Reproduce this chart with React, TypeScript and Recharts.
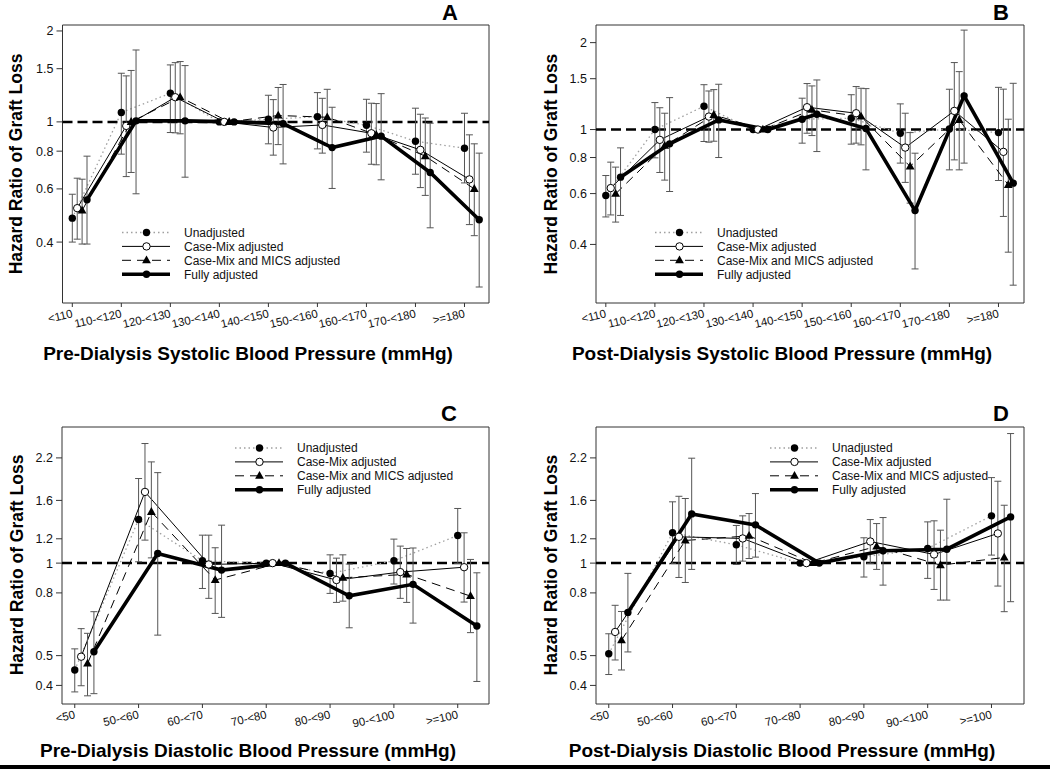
import React from 'react';
import { LineChart, Line, XAxis, YAxis, ErrorBar, ReferenceLine, ReferenceArea } from 'recharts';

const FONT = '"Liberation Sans", Arial, Helvetica, sans-serif';

// ---------- categories / ticks ----------
const sysCats = ['<110', '110-<120', '120-<130', '130-<140', '140-<150', '150-<160', '160-<170', '170-<180', '>=180'];
const diaCats = ['<50', '50-<60', '60-<70', '70-<80', '80-<90', '90-<100', '>=100'];
const yTicksSys = [0.4, 0.6, 0.8, 1, 1.5, 2];
const yTicksDia = [0.4, 0.5, 0.8, 1, 1.2, 1.6, 2.2];
const seriesNames = ['Unadjusted', 'Case-Mix adjusted', 'Case-Mix and MICS adjusted', 'Fully adjusted'];
const seriesOffsets = [0, 0.1, 0.2, 0.3];

// ---------- Panel A: pre-dialysis systolic ----------
const aUnadj = [0.48, 1.074, 1.244, 1, 1.02, 1.04, 0.975, 0.863, 0.818];
const aUnadjLo = [0.4, 0.782, 0.922, null, 0.846, 0.814, 0.794, 0.671, 0.628];
const aUnadjHi = [0.576, 1.449, 1.544, null, 1.225, 1.25, 1.188, 1.11, 1.068];
const aCase = [0.518, 0.97, 1.207, 1, 0.958, 0.977, 0.917, 0.808, 0.645];
const aCaseLo = [0.409, 0.659, 0.92, null, 0.776, 0.788, 0.724, 0.606, 0.457];
const aCaseHi = [0.651, 1.42, 1.571, null, 1.185, 1.197, 1.153, 1.06, 0.906];
const aMics = [0.509, 1.0, 1.207, 1, 1.05, 1.036, 0.906, 0.77, 0.6];
const aMicsLo = [0.394, 0.68, 0.913, null, 0.841, 0.835, 0.721, 0.571, 0.42];
const aMicsHi = [0.646, 1.48, 1.584, null, 1.3, 1.282, 1.15, 1.03, 0.846];
const aFull = [0.552, 1.008, 1.008, 1, 0.987, 0.822, 0.897, 0.68, 0.474];
const aFullLo = [0.394, 0.578, 0.656, null, 0.726, 0.602, 0.643, 0.446, 0.284];
const aFullHi = [0.77, 1.73, 1.536, null, 1.33, 1.118, 1.24, 0.99, 0.788];

// ---------- Panel B: post-dialysis systolic ----------
const bUnadj = [0.591, 1.0, 1.204, 1, 1.086, 1.094, 0.971, 1.005, 0.976];
const bUnadjLo = [0.498, 0.798, 0.909, null, 0.897, 0.89, 0.765, 0.725, 0.666];
const bUnadjHi = [0.693, 1.24, 1.43, null, 1.284, 1.32, 1.227, 1.379, 1.4];
const bCase = [0.627, 0.921, 1.109, 1, 1.195, 1.139, 0.866, 1.16, 0.837];
const bCaseLo = [0.506, 0.71, 0.904, null, 0.971, 0.897, 0.656, 0.785, 0.5];
const bCaseHi = [0.771, 1.19, 1.36, null, 1.443, 1.409, 1.139, 1.706, 1.38];
const bMics = [0.599, 0.878, 1.124, 1, 1.17, 1.109, 0.745, 1.08, 0.643];
const bMicsLo = [0.478, 0.668, 0.911, null, 0.953, 0.885, 0.556, 0.725, 0.376];
const bMicsHi = [0.741, 1.139, 1.375, null, 1.416, 1.39, 0.976, 1.587, 1.086];
const bFull = [0.684, 0.892, 1.08, 1, 1.13, 1.008, 0.524, 1.308, 0.652];
const bFullLo = [0.504, 0.61, 0.8, null, 0.839, 0.725, 0.329, 0.765, 0.289];
const bFullHi = [0.864, 1.29, 1.435, null, 1.485, 1.386, 0.828, 2.21, 1.446];

// ---------- Panel C: pre-dialysis diastolic ----------
const cUnadj = [0.449, 1.387, 1.018, 1, 0.926, 1.018, 1.23];
const cUnadjLo = [0.381, 1.01, 0.827, null, 0.797, 0.855, 0.998];
const cUnadjHi = [0.526, 1.885, 1.233, null, 1.064, 1.197, 1.506];
const cCase = [0.496, 1.705, 0.99, 1, 0.881, 0.935, 0.97];
const cCaseLo = [0.399, 1.188, 0.768, null, 0.745, 0.768, 0.747];
const cCaseHi = [0.612, 2.45, 1.233, null, 1.038, 1.136, 1.255];
const cMics = [0.471, 1.468, 0.881, 1, 0.896, 0.919, 0.781];
const cMicsLo = [0.37, 1.04, 0.686, null, 0.752, 0.745, 0.594];
const cMicsHi = [0.591, 2.135, 1.122, null, 1.064, 1.116, 1.028];
const cFull = [0.515, 1.075, 0.949, 1, 0.783, 0.853, 0.624];
const cFullLo = [0.376, 0.583, 0.666, null, 0.616, 0.638, 0.412];
const cFullHi = [0.695, 1.97, 1.329, null, 0.993, 1.12, 0.93];

// ---------- Panel D: post-dialysis diastolic ----------
const dUnadj = [0.507, 1.255, 1.147, 1, 1.048, 1.116, 1.425];
const dUnadjLo = [0.434, 0.998, 0.99, null, 0.901, 0.892, 1.062];
const dUnadjHi = [0.589, 1.583, 1.326, null, 1.209, 1.362, 1.898];
const dCase = [0.597, 1.218, 1.203, 1, 1.176, 1.067, 1.249];
const dCaseLo = [0.484, 0.898, 1.015, null, 0.998, 0.821, 0.842];
const dCaseHi = [0.729, 1.65, 1.425, null, 1.386, 1.373, 1.847];
const dMics = [0.561, 1.185, 1.227, 1, 1.133, 0.985, 1.043];
const dMicsLo = [0.449, 0.865, 1.035, null, 0.954, 0.758, 0.695];
const dMicsHi = [0.696, 1.623, 1.45, null, 1.345, 1.28, 1.543];
const dFull = [0.691, 1.446, 1.332, 1, 1.097, 1.11, 1.414];
const dFullLo = [0.514, 0.954, 1.046, null, 0.848, 0.758, 0.749];
const dFullHi = [0.926, 2.195, 1.684, null, 1.407, 1.614, 2.64];

// ---------- styles ----------
type Kind = 'filled' | 'open' | 'tri';
const seriesStyles: { stroke: string; width: number; dash?: string; marker: Kind }[] = [
  { stroke: '#a0a0a0', width: 1.3, dash: '1.5 3', marker: 'filled' },
  { stroke: '#000', width: 1, marker: 'open' },
  { stroke: '#000', width: 1, dash: '9 6', marker: 'tri' },
  { stroke: '#000', width: 3.6, marker: 'filled' },
];

function makeRows(cats: string[], v: number[], lo: (number | null)[], hi: (number | null)[], off: number) {
  return cats.map((c, i) => ({
    x: i + off,
    cat: c,
    v: v[i],
    err: lo[i] == null || hi[i] == null ? null : [v[i] - (lo[i] as number), (hi[i] as number) - v[i]],
  }));
}

function Marker({ kind, cx, cy }: { kind: Kind; cx: number; cy: number }) {
  if (kind === 'tri') {
    return <path d={`M${cx},${cy - 4.8}L${cx + 4.4},${cy + 3}L${cx - 4.4},${cy + 3}Z`} fill="#000" />;
  }
  if (kind === 'open') {
    return <circle cx={cx} cy={cy} r={3.7} fill="#fff" stroke="#000" strokeWidth={1} />;
  }
  return <circle cx={cx} cy={cy} r={3.7} fill="#000" />;
}

const renderDot = (kind: Kind) => (p: any) => {
  const { cx, cy, index } = p;
  if (cx == null || cy == null) return <g key={`d${index}`} />;
  return (
    <g key={`d${index}`}>
      <Marker kind={kind} cx={cx} cy={cy} />
    </g>
  );
};

type PanelProps = {
  left: number;
  top: number;
  width: number;
  height: number;
  box: { top: number; right: number; bottom: number; left: number };
  cats: string[];
  xDomain: [number, number];
  yDomain: [number, number];
  yTicks: number[];
  values: number[][];
  los: (number | null)[][];
  his: (number | null)[][];
};

const Y_AXIS_W = 40;
const X_AXIS_H = 30;

function Panel(props: PanelProps) {
  const { left, top, width, height, box, cats, xDomain, yDomain, yTicks, values, los, his } = props;
  const margin = { top: box.top, right: box.right, left: box.left - Y_AXIS_W, bottom: box.bottom - X_AXIS_H };
  const plotBottom = height - box.bottom;
  const rows = values.map((v, j) => makeRows(cats, v, los[j], his[j], seriesOffsets[j]));
  const XTick = (tp: any) => {
    const { x, payload } = tp;
    const y = plotBottom + 14;
    return (
      <text x={x + 1} y={y} transform={`rotate(-13, ${x + 1}, ${y})`} textAnchor="end" fontSize={11.5} fill="#111" fontFamily={FONT}>
        {cats[payload.value]}
      </text>
    );
  };
  return (
    <div style={{ position: 'absolute', left, top, width, height }}>
      <LineChart width={width} height={height} margin={margin}>
        <XAxis
          type="number"
          dataKey="x"
          domain={xDomain}
          ticks={cats.map((_, i) => i)}
          interval={0}
          allowDataOverflow
          axisLine={false}
          tickLine={{ stroke: '#333' }}
          tickSize={4}
          height={X_AXIS_H}
          tick={XTick}
        />
        <YAxis
          type="number"
          scale="log"
          domain={yDomain}
          ticks={yTicks}
          interval={0}
          allowDataOverflow
          axisLine={false}
          tickLine={{ stroke: '#333' }}
          tickSize={6}
          tickMargin={3}
          width={Y_AXIS_W}
          tick={{ fontSize: 12.5, fill: '#111', fontFamily: FONT }}
        />
        <ReferenceArea
          x1={xDomain[0]}
          x2={xDomain[1]}
          y1={yDomain[0]}
          y2={yDomain[1]}
          fill="none"
          fillOpacity={0}
          stroke="#333"
          strokeWidth={1}
          ifOverflow="visible"
        />
        <ReferenceLine y={1} stroke="#000" strokeWidth={2.5} strokeDasharray="10 5" />
        {rows.map((r, j) => {
          const st = seriesStyles[j];
          return (
            <Line
              key={j}
              data={r}
              dataKey="v"
              type="linear"
              stroke={st.stroke}
              strokeWidth={st.width}
              strokeDasharray={st.dash}
              dot={renderDot(st.marker)}
              activeDot={false}
              isAnimationActive={false}
            >
              <ErrorBar dataKey="err" direction="y" width={3.5} stroke="#555" strokeWidth={1} />
            </Line>
          );
        })}
      </LineChart>
    </div>
  );
}

function LegendBlock({ x, y }: { x: number; y: number }) {
  const gap = 13.9;
  return (
    <g>
      {seriesNames.map((name, j) => {
        const st = seriesStyles[j];
        const cy = y + j * gap;
        return (
          <g key={name}>
            <line x1={x} x2={x + 48} y1={cy} y2={cy} stroke={st.stroke} strokeWidth={st.width} strokeDasharray={st.dash} />
            <Marker kind={st.marker} cx={x + 24.5} cy={cy} />
            <text x={x + 62} y={cy + 4.3} fontSize={12} fill="#111" fontFamily={FONT}>
              {name}
            </text>
          </g>
        );
      })}
    </g>
  );
}

export default function App() {
  const topH = 385;
  const botH = 380;
  return (
    <div style={{ position: 'absolute', left: 0, top: 0, width: 1050, height: 769, background: '#fff', overflow: 'hidden' }}>
      <Panel
        left={0}
        top={0}
        width={525}
        height={topH}
        box={{ top: 25, right: 36, bottom: 82, left: 62.5 }}
        cats={sysCats}
        xDomain={[-0.2, 8.5]}
        yDomain={[0.2514, 2.093]}
        yTicks={yTicksSys}
        values={[aUnadj, aCase, aMics, aFull]}
        los={[aUnadjLo, aCaseLo, aMicsLo, aFullLo]}
        his={[aUnadjHi, aCaseHi, aMicsHi, aFullHi]}
      />
      <Panel
        left={525}
        top={0}
        width={525}
        height={topH}
        box={{ top: 25, right: 26, bottom: 82, left: 71 }}
        cats={sysCats}
        xDomain={[-0.2, 8.52]}
        yDomain={[0.2507, 2.302]}
        yTicks={yTicksSys}
        values={[bUnadj, bCase, bMics, bFull]}
        los={[bUnadjLo, bCaseLo, bMicsLo, bFullLo]}
        his={[bUnadjHi, bCaseHi, bMicsHi, bFullHi]}
      />
      <Panel
        left={0}
        top={385}
        width={525}
        height={botH}
        box={{ top: 42, right: 36, bottom: 61, left: 62 }}
        cats={diaCats}
        xDomain={[-0.2, 6.49]}
        yDomain={[0.348, 2.773]}
        yTicks={yTicksDia}
        values={[cUnadj, cCase, cMics, cFull]}
        los={[cUnadjLo, cCaseLo, cMicsLo, cFullLo]}
        his={[cUnadjHi, cCaseHi, cMicsHi, cFullHi]}
      />
      <Panel
        left={525}
        top={385}
        width={525}
        height={botH}
        box={{ top: 42, right: 26, bottom: 61, left: 71 }}
        cats={diaCats}
        xDomain={[-0.2, 6.51]}
        yDomain={[0.348, 2.773]}
        yTicks={yTicksDia}
        values={[dUnadj, dCase, dMics, dFull]}
        los={[dUnadjLo, dCaseLo, dMicsLo, dFullLo]}
        his={[dUnadjHi, dCaseHi, dMicsHi, dFullHi]}
      />
      <svg width={1050} height={769} style={{ position: 'absolute', left: 0, top: 0, pointerEvents: 'none' }}>
        {/* panel letters */}
        <text x={450} y={20} textAnchor="middle" fontSize={22} fontWeight="bold" fontFamily={FONT} fill="#000">A</text>
        <text x={1001} y={20} textAnchor="middle" fontSize={22} fontWeight="bold" fontFamily={FONT} fill="#000">B</text>
        <text x={449} y={421} textAnchor="middle" fontSize={22} fontWeight="bold" fontFamily={FONT} fill="#000">C</text>
        <text x={1001} y={421} textAnchor="middle" fontSize={22} fontWeight="bold" fontFamily={FONT} fill="#000">D</text>
        {/* y-axis titles */}
        <text x={22} y={164} transform="rotate(-90, 22, 164)" textAnchor="middle" fontSize={17.5} fontWeight="bold" fontFamily={FONT} fill="#000">Hazard Ratio of Graft Loss</text>
        <text x={557} y={164} transform="rotate(-90, 557, 164)" textAnchor="middle" fontSize={17.5} fontWeight="bold" fontFamily={FONT} fill="#000">Hazard Ratio of Graft Loss</text>
        <text x={23} y={565} transform="rotate(-90, 23, 565)" textAnchor="middle" fontSize={17.5} fontWeight="bold" fontFamily={FONT} fill="#000">Hazard Ratio of Graft Loss</text>
        <text x={557} y={565} transform="rotate(-90, 557, 565)" textAnchor="middle" fontSize={17.5} fontWeight="bold" fontFamily={FONT} fill="#000">Hazard Ratio of Graft Loss</text>
        {/* x-axis titles */}
        <text x={248} y={360} textAnchor="middle" fontSize={19} fontWeight="bold" fontFamily={FONT} fill="#000">Pre-Dialysis Systolic Blood Pressure (mmHg)</text>
        <text x={782} y={360} textAnchor="middle" fontSize={19} fontWeight="bold" fontFamily={FONT} fill="#000">Post-Dialysis Systolic Blood Pressure (mmHg)</text>
        <text x={248} y={757} textAnchor="middle" fontSize={19} fontWeight="bold" fontFamily={FONT} fill="#000">Pre-Dialysis Diastolic Blood Pressure (mmHg)</text>
        <text x={782} y={757} textAnchor="middle" fontSize={19} fontWeight="bold" fontFamily={FONT} fill="#000">Post-Dialysis Diastolic Blood Pressure (mmHg)</text>
        {/* legends */}
        <LegendBlock x={122} y={232.5} />
        <LegendBlock x={655} y={232.5} />
        <LegendBlock x={235} y={448} />
        <LegendBlock x={770} y={448} />
        {/* bottom rule */}
        <rect x={0} y={765} width={1050} height={4} fill="#000" />
      </svg>
    </div>
  );
}
